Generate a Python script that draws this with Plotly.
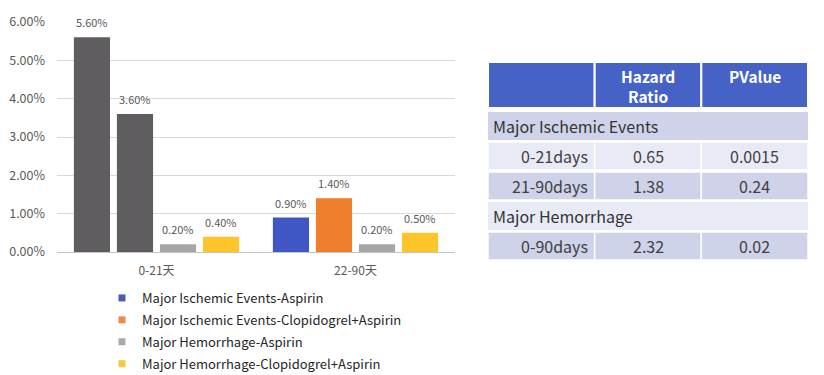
import plotly.graph_objects as go

# ---------------- data ----------------
categories = ["0-21天", "22-90天"]
series_names = [
    "Major Ischemic Events-Aspirin",
    "Major Ischemic Events-Clopidogrel+Aspirin",
    "Major Hemorrhage-Aspirin",
    "Major Hemorrhage-Clopidogrel+Aspirin",
]
ischemic_aspirin = [5.60, 0.90]
ischemic_combo = [3.60, 1.40]
hemorrhage_aspirin = [0.20, 0.20]
hemorrhage_combo = [0.40, 0.50]
y_ticks = [0, 1, 2, 3, 4, 5, 6]
y_tick_labels = ["0.00%", "1.00%", "2.00%", "3.00%", "4.00%", "5.00%", "6.00%"]

table_header = ["", "Hazard<br>Ratio", "PValue"]
table_sections = ["Major Ischemic Events", "Major Hemorrhage"]
table_periods = ["0-21days", "21-90days", "0-90days"]
table_hazard = ["0.65", "1.38", "2.32"]
table_pvalue = ["0.0015", "0.24", "0.02"]
# row order: section 0, period 0, period 1, section 1, period 2
table_layout = [("section", 0), ("data", 0), ("data", 1), ("section", 1), ("data", 2)]

# ---------------- styles ----------------
# the page body has an 8px margin, so the figure is laid out 8px in from the corner
OX, OY = 8, 8
W, H = 824 - OX, 375 - OY


def px(x):
    return (x - OX) / W


def py(y):
    return 1 - (y - OY) / H


FONT = "Noto Sans CJK SC, Noto Sans, sans-serif"
bar_colors = [
    ["#5f5d60", "#3f56c4"],
    ["#5f5d60", "#f07f2d"],
    "#a6a6a6",
    "#fcc62a",
]
legend_colors = ["#4a5ab8", "#eb8a4d", "#a9a9a9", "#f2cb3e"]
BARGAP = 0.135
BARGROUPGAP = 0.16

series_values = [ischemic_aspirin, ischemic_combo, hemorrhage_aspirin, hemorrhage_combo]

fig = go.Figure()
for k, (name, vals) in enumerate(zip(series_names, series_values)):
    fig.add_trace(go.Bar(
        x=categories, y=vals, name=name,
        marker=dict(color=bar_colors[k], line=dict(width=0)),
        showlegend=False, hoverinfo="skip",
    ))
# legend entries (small square swatches like the original)
for k, name in enumerate(series_names):
    fig.add_trace(go.Scatter(
        x=[None], y=[None], mode="markers", name=name,
        marker=dict(symbol="square", size=7, color=legend_colors[k]),
        legendgroup=f"g{k}", showlegend=True,
    ))

# data labels above bars, positioned through the category axis
n = len(series_values)
slot = (1 - BARGAP) / n
annotations = []
for k, vals in enumerate(series_values):
    off = -(1 - BARGAP) / 2 + (k + 0.5) * slot
    for i, v in enumerate(vals):
        annotations.append(dict(
            x=i + off, y=v, xref="x", yref="y", text=f"{v:.2f}%",
            showarrow=False, yanchor="bottom", yshift=5,
            font=dict(size=11, color="#595959", family=FONT),
        ))

# ---------------- table (drawn on its own hidden axes) ----------------
HEADER_H = 46
SEP = 4
ROW_H = 28
ROW_SEP = 2
TABLE_H = HEADER_H + SEP + len(table_layout) * (ROW_H + ROW_SEP) - ROW_SEP
header_fill = "#4662c7"
dark_fill = "#cfd3ea"
light_fill = "#e8eaf5"
TFONT = 16
shapes = []
ncol = len(table_header)
for c in range(ncol):
    shapes.append(dict(type="rect", xref="x2", yref="y2", x0=c, x1=c + 1,
                       y0=0, y1=HEADER_H, fillcolor=header_fill,
                       line=dict(color="white", width=2), layer="below"))
    if table_header[c]:
        annotations.append(dict(
            x=c + 0.5, y=1, xref="x2", yref="y2", text=f"<b>{table_header[c]}</b>",
            showarrow=False, xanchor="center", yanchor="top",
            font=dict(size=15.5, color="white", family=FONT),
        ))
for r, (kind, idx) in enumerate(table_layout):
    y0 = HEADER_H + SEP + r * (ROW_H + ROW_SEP)
    y1 = y0 + ROW_H
    fill = dark_fill if r % 2 == 0 else light_fill
    ymid = (y0 + y1) / 2
    if kind == "section":
        shapes.append(dict(type="rect", xref="x2", yref="y2", x0=0, x1=ncol,
                           y0=y0, y1=y1, fillcolor=fill, line=dict(width=0), layer="below"))
        annotations.append(dict(
            x=0, y=ymid, xref="x2", yref="y2", text=table_sections[idx],
            showarrow=False, xanchor="left", yanchor="middle", xshift=3,
            font=dict(size=TFONT, color="#333333", family=FONT),
        ))
    else:
        for c in range(ncol):
            shapes.append(dict(type="rect", xref="x2", yref="y2", x0=c, x1=c + 1,
                               y0=y0, y1=y1, fillcolor=fill,
                               line=dict(color="white", width=1.5), layer="below"))
        annotations.append(dict(
            x=1, y=ymid, xref="x2", yref="y2", text=table_periods[idx],
            showarrow=False, xanchor="right", yanchor="middle", xshift=-5,
            font=dict(size=TFONT, color="#404040", family=FONT),
        ))
        annotations.append(dict(
            x=1.5, y=ymid, xref="x2", yref="y2", text=table_hazard[idx],
            showarrow=False, xanchor="center", yanchor="middle",
            font=dict(size=TFONT, color="#404040", family=FONT),
        ))
        annotations.append(dict(
            x=2.5, y=ymid, xref="x2", yref="y2", text=table_pvalue[idx],
            showarrow=False, xanchor="center", yanchor="middle",
            font=dict(size=TFONT, color="#404040", family=FONT),
        ))

fig.update_layout(
    width=W, height=H,
    margin=dict(l=0, r=0, t=0, b=0, autoexpand=False),
    paper_bgcolor="white", plot_bgcolor="white",
    font=dict(family=FONT, color="#595959"),
    barmode="group", bargap=BARGAP, bargroupgap=BARGROUPGAP,
    xaxis=dict(
        domain=[px(57), px(455)], type="category",
        showgrid=False, showline=False, ticks="",
        tickfont=dict(size=12, color="#595959"), ticklabelstandoff=10,
        fixedrange=True, automargin=False,
    ),
    yaxis=dict(
        domain=[py(252), py(22)], range=[0, 6],
        tickmode="array", tickvals=y_ticks, ticktext=y_tick_labels,
        showgrid=True, gridcolor="#d9d9d9", gridwidth=1,
        zeroline=True, zerolinecolor="#c4c4c4", zerolinewidth=1,
        showline=False, ticks="",
        tickfont=dict(size=12.5, color="#595959"), ticklabelstandoff=11,
        fixedrange=True, automargin=False,
    ),
    xaxis2=dict(domain=[px(488), px(808)], range=[0, ncol], visible=False,
                anchor="y2", fixedrange=True),
    yaxis2=dict(domain=[py(62 + TABLE_H), py(62)], range=[TABLE_H, 0],
                visible=False, anchor="x2", fixedrange=True),
    legend=dict(
        x=px(102), xanchor="left", y=py(283), yanchor="top",
        orientation="v", tracegroupgap=2,
        font=dict(size=13, color="#262626", family=FONT),
        bgcolor="rgba(0,0,0,0)", itemclick=False, itemdoubleclick=False,
    ),
    shapes=shapes,
    annotations=annotations,
    showlegend=True,
)

fig.write_html("out.html")
